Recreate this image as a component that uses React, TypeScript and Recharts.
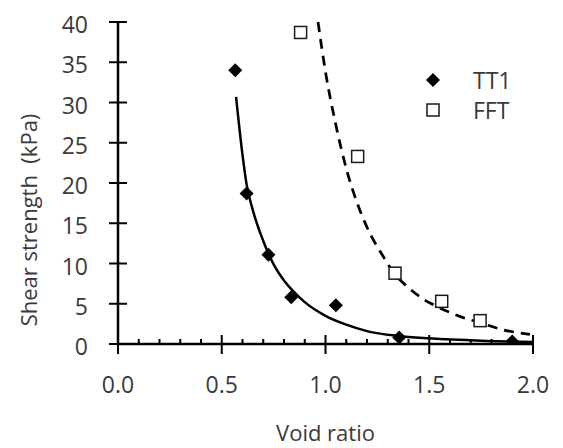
import React from 'react';
import {
  ComposedChart,
  Scatter,
  Line,
  XAxis,
  YAxis,
  Label,
} from 'recharts';

// measured points
const tt1Points = [
  { x: 0.565, y: 34.0 },
  { x: 0.62, y: 18.7 },
  { x: 0.725, y: 11.1 },
  { x: 0.835, y: 5.8 },
  { x: 1.05, y: 4.8 },
  { x: 1.355, y: 0.8 },
  { x: 1.9, y: 0.3 },
];

const fftPoints = [
  { x: 0.88, y: 38.7 },
  { x: 1.155, y: 23.3 },
  { x: 1.335, y: 8.8 },
  { x: 1.56, y: 5.3 },
  { x: 1.745, y: 2.9 },
];

// fitted curves
const tt1Fit = [
  { x: 0.569, y: 30.7 },
  { x: 0.6, y: 23.5 },
  { x: 0.62, y: 19.8 },
  { x: 0.65, y: 16.6 },
  { x: 0.7, y: 12.8 },
  { x: 0.75, y: 9.9 },
  { x: 0.8, y: 7.9 },
  { x: 0.85, y: 6.4 },
  { x: 0.9, y: 5.2 },
  { x: 1.0, y: 3.5 },
  { x: 1.1, y: 2.4 },
  { x: 1.2, y: 1.6 },
  { x: 1.35, y: 1.0 },
  { x: 1.5, y: 0.7 },
  { x: 1.75, y: 0.4 },
  { x: 2.0, y: 0.25 },
];

const fftFit = [
  { x: 0.964, y: 40 },
  { x: 1.0, y: 33.8 },
  { x: 1.05, y: 27.2 },
  { x: 1.1, y: 21.8 },
  { x: 1.15, y: 17.7 },
  { x: 1.2, y: 14.5 },
  { x: 1.28, y: 10.8 },
  { x: 1.33, y: 8.8 },
  { x: 1.4, y: 7.0 },
  { x: 1.47, y: 5.6 },
  { x: 1.55, y: 4.5 },
  { x: 1.65, y: 3.4 },
  { x: 1.75, y: 2.6 },
  { x: 1.85, y: 1.8 },
  { x: 1.985, y: 1.2 },
];

const xTicks = [0, 0.1, 0.2, 0.3, 0.4, 0.5, 0.6, 0.7, 0.8, 0.9, 1.0, 1.1, 1.2, 1.3, 1.4, 1.5, 1.6, 1.7, 1.8, 1.9, 2.0];
const yTicks = [0, 5, 10, 15, 20, 25, 30, 35, 40];
const legendItems = ['TT1', 'FFT'];

const FONT = '"Open Sans", sans-serif';
const TEXT = '#3a3a3a';

const Diamond = (props: any) => {
  const { cx, cy } = props;
  const r = 7;
  return (
    <polygon
      points={`${cx},${cy - r} ${cx + r},${cy} ${cx},${cy + r} ${cx - r},${cy}`}
      fill="#000"
    />
  );
};

const Square = (props: any) => {
  const { cx, cy } = props;
  return <rect x={cx - 6} y={cy - 6} width={12} height={12} fill="#fff" stroke="#1a1a1a" strokeWidth={1.5} />;
};

const XTick = (props: any) => {
  const { x, y, payload } = props;
  const major = Math.round(payload.value * 10) % 5 === 0;
  if (!major) {
    return <line x1={x} x2={x} y1={y - 5} y2={y + 1} stroke="#000" strokeWidth={2} />;
  }
  return (
    <g>
      <line x1={x} x2={x} y1={y - 9} y2={y + 10} stroke="#000" strokeWidth={2} />
      <text x={x} y={y + 49} textAnchor="middle" fontFamily={FONT} fontSize={23} fill={TEXT}>
        {payload.value.toFixed(1)}
      </text>
    </g>
  );
};

const YTick = (props: any) => {
  const { x, y, payload } = props;
  return (
    <g>
      <line x1={x - 9} x2={x + 9} y1={y} y2={y} stroke="#000" strokeWidth={2} />
      <text x={x - 30} y={y + 11} textAnchor="end" fontFamily={FONT} fontSize={23} fill={TEXT}>
        {payload.value}
      </text>
    </g>
  );
};

const LegendBox = () => (
  <div
    style={{
      position: 'absolute',
      left: 422,
      top: 65,
      fontFamily: FONT,
      fontSize: 23,
      color: TEXT,
    }}
  >
    {legendItems.map((name, i) => (
      <div key={name} style={{ display: 'flex', alignItems: 'center', height: 30 }}>
        <svg width={22} height={22} style={{ marginRight: 29 }}>
          {i === 0 ? <Diamond cx={11} cy={11} /> : <Square cx={11} cy={11} />}
        </svg>
        <span style={{ lineHeight: '30px' }}>{name}</span>
      </div>
    ))}
  </div>
);

export default function App() {
  return (
    <div style={{ position: 'absolute', left: 0, top: 0, width: 563, height: 448, background: '#fff' }}>
      <ComposedChart
        width={563}
        height={448}
        margin={{ top: 22, right: 30, left: 58, bottom: 9 }}
      >
        <XAxis
          type="number"
          dataKey="x"
          domain={[0, 2]}
          ticks={xTicks}
          interval={0}
          allowDataOverflow
          height={95}
          tickSize={0}
          tickMargin={0}
          tickLine={false}
          axisLine={{ stroke: '#000', strokeWidth: 2.5 }}
          tick={<XTick />}
        >
          <Label
            value="Void ratio"
            position="insideBottom"
            offset={-2}
            style={{ fontFamily: FONT, fontSize: 22, fill: TEXT }}
          />
        </XAxis>
        <YAxis
          type="number"
          dataKey="y"
          domain={[0, 40]}
          ticks={yTicks}
          interval={0}
          allowDataOverflow
          width={60}
          tickSize={0}
          tickMargin={0}
          tickLine={false}
          axisLine={{ stroke: '#000', strokeWidth: 2.5 }}
          tick={<YTick />}
        >
          <Label
            content={() => (
              <text
                x={28}
                y={220}
                transform="rotate(-90 28 220)"
                textAnchor="middle"
                dominantBaseline="central"
                fontFamily={FONT}
                fontSize={22}
                fill={TEXT}
              >
                {'Shear strength\u00a0 (kPa)'}
              </text>
            )}
          />
        </YAxis>
        <Scatter name="TT1" data={tt1Points} dataKey="y" shape={<Diamond />} isAnimationActive={false} />
        <Scatter name="FFT" data={fftPoints} dataKey="y" shape={<Square />} isAnimationActive={false} />
        <Line
          data={tt1Fit}
          dataKey="y"
          type="monotone"
          stroke="#000"
          strokeWidth={2.5}
          dot={false}
          legendType="none"
          isAnimationActive={false}
        />
        <Line
          data={fftFit}
          dataKey="y"
          type="monotone"
          stroke="#000"
          strokeWidth={2.75}
          strokeDasharray="10 7"
          dot={false}
          legendType="none"
          isAnimationActive={false}
        />
      </ComposedChart>
      <LegendBox />
    </div>
  );
}
